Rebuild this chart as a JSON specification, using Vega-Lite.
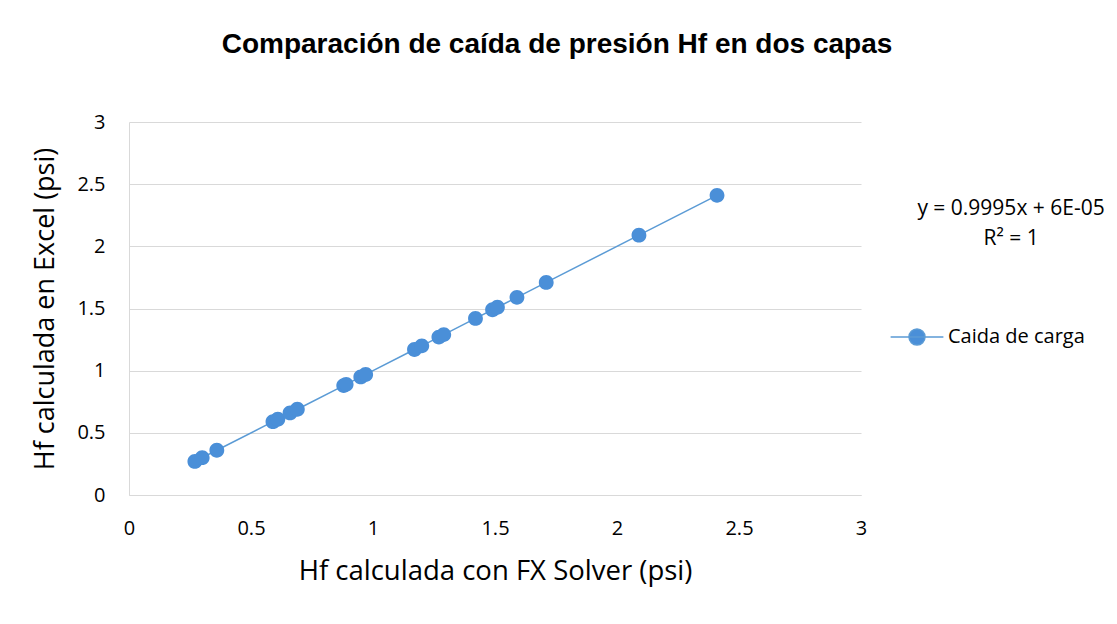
{
  "$schema": "https://vega.github.io/schema/vega-lite/v6.json",
  "width": 732,
  "height": 373,
  "autosize": {"type": "none"},
  "padding": {"left": 129, "top": 122, "right": 256, "bottom": 129},
  "background": "white",
  "config": {
    "view": {"stroke": null},
    "font": "Open Sans",
    "axis": {"labelFont": "Open Sans", "titleFont": "Open Sans", "labelColor": "#000000", "titleColor": "#000000", "titleFontWeight": "normal"}
  },
  "title": {
    "text": "Comparación de caída de presión Hf en dos capas",
    "font": "Liberation Sans",
    "fontSize": 28,
    "fontWeight": "bold",
    "color": "#000000",
    "anchor": "middle",
    "baseline": "alphabetic",
    "dx": 62,
    "offset": 31
  },
  "datasets": {
    "pts": [
      {"fx": 0.27, "ex": 0.27, "serie": "Caida de carga"},
      {"fx": 0.30, "ex": 0.30, "serie": "Caida de carga"},
      {"fx": 0.36, "ex": 0.36, "serie": "Caida de carga"},
      {"fx": 0.59, "ex": 0.59, "serie": "Caida de carga"},
      {"fx": 0.61, "ex": 0.61, "serie": "Caida de carga"},
      {"fx": 0.66, "ex": 0.66, "serie": "Caida de carga"},
      {"fx": 0.69, "ex": 0.69, "serie": "Caida de carga"},
      {"fx": 0.88, "ex": 0.88, "serie": "Caida de carga"},
      {"fx": 0.89, "ex": 0.89, "serie": "Caida de carga"},
      {"fx": 0.95, "ex": 0.95, "serie": "Caida de carga"},
      {"fx": 0.97, "ex": 0.97, "serie": "Caida de carga"},
      {"fx": 1.17, "ex": 1.17, "serie": "Caida de carga"},
      {"fx": 1.20, "ex": 1.20, "serie": "Caida de carga"},
      {"fx": 1.27, "ex": 1.27, "serie": "Caida de carga"},
      {"fx": 1.29, "ex": 1.29, "serie": "Caida de carga"},
      {"fx": 1.42, "ex": 1.42, "serie": "Caida de carga"},
      {"fx": 1.49, "ex": 1.49, "serie": "Caida de carga"},
      {"fx": 1.51, "ex": 1.51, "serie": "Caida de carga"},
      {"fx": 1.59, "ex": 1.59, "serie": "Caida de carga"},
      {"fx": 1.71, "ex": 1.71, "serie": "Caida de carga"},
      {"fx": 2.09, "ex": 2.09, "serie": "Caida de carga"},
      {"fx": 2.41, "ex": 2.41, "serie": "Caida de carga"}
    ],
    "eq": [{"label": "y = 0.9995x + 6E-05\nR² = 1"}]
  },
  "layer": [
    {
      "data": {"name": "pts"},
      "mark": {"type": "line", "color": "#5B9BD5", "strokeWidth": 1.5},
      "encoding": {
        "x": {"field": "fx", "type": "quantitative", "scale": {"domain": [0, 3], "nice": false},
          "axis": {"values": [0, 0.5, 1, 1.5, 2, 2.5, 3], "format": "~g", "grid": false, "ticks": false, "labelFlush": false, "domainColor": "#d9d9d9", "labelFontSize": 20, "labelPadding": 23, "title": "Hf calculada con FX Solver (psi)", "titleFontSize": 27.5, "titlePadding": 19}},
        "y": {"field": "ex", "type": "quantitative", "scale": {"domain": [0, 3], "nice": false},
          "axis": {"values": [0, 0.5, 1, 1.5, 2, 2.5, 3], "format": "~g", "grid": true, "gridColor": "#d9d9d9", "ticks": false, "labelFlush": false, "domainColor": "#d9d9d9", "labelFontSize": 20, "labelPadding": 24, "title": "Hf calculada en Excel (psi)", "titleFontSize": 27, "titlePadding": 17}},
        "order": {"field": "fx", "type": "quantitative"}
      }
    },
    {
      "data": {"name": "pts"},
      "mark": {"type": "point", "filled": true, "opacity": 1, "size": 220, "strokeWidth": 0},
      "encoding": {
        "x": {"field": "fx", "type": "quantitative"},
        "y": {"field": "ex", "type": "quantitative"},
        "shape": {"field": "serie", "type": "nominal", "scale": {"range": ["M-3.3,0H3.3M-1,0A1,1,0,1,1,1,0A1,1,0,1,1,-1,0Z"]}},
        "color": {"field": "serie", "type": "nominal", "scale": {"range": ["#4A8FD8"]},
          "legend": {"title": null, "orient": "none", "legendX": 778, "legendY": 205, "labelFontSize": 20, "labelFont": "Open Sans", "labelColor": "#000000",
            "symbolSize": 256, "labelOffset": 21, "symbolStrokeColor": "#5B9BD5", "symbolStrokeWidth": 1.5,
            "encode": {"symbols": {"update": {
              "size": {"value": 256},
              "stroke": {"value": "#5B9BD5"},
              "strokeWidth": {"value": 1.5}}}}}}
      }
    },
    {
      "data": {"name": "eq"},
      "mark": {"type": "text", "align": "center", "baseline": "middle", "fontSize": 21, "font": "Open Sans", "lineBreak": "\n", "lineHeight": 30, "color": "#000000"},
      "encoding": {
        "x": {"datum": 3.615, "type": "quantitative"},
        "y": {"datum": 2.301, "type": "quantitative"},
        "text": {"field": "label"}
      }
    }
  ]
}
